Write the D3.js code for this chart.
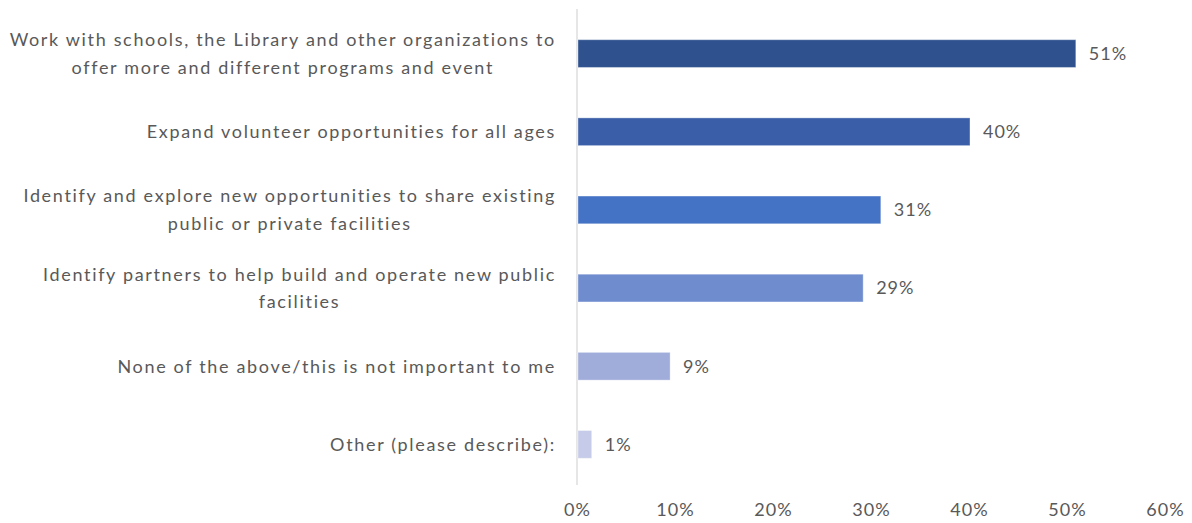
<!DOCTYPE html>
<html><head><meta charset="utf-8">
<script src="https://cdn.jsdelivr.net/npm/d3@7"></script>
<style>html,body{margin:0;padding:0;background:#fff}</style>
</head><body>
<svg id="c" width="1192" height="523"></svg>
<script>
const categories = [
  ["Work with schools, the Library and other organizations to", "offer more and different programs and event"],
  ["Expand volunteer opportunities for all ages"],
  ["Identify and explore new opportunities to share existing", "public or private facilities"],
  ["Identify partners to help build and operate new public", "facilities"],
  ["None of the above/this is not important to me"],
  ["Other (please describe):"]
];
const values = [50.9, 40.1, 31.0, 29.2, 9.5, 1.5];
const valueLabels = ["51%", "40%", "31%", "29%", "9%", "1%"];
const tickValues = [0, 10, 20, 30, 40, 50, 60];
const tickLabels = ["0%", "10%", "20%", "30%", "40%", "50%", "60%"];
const colors = ["#2f528f", "#3a5fa8", "#4472c4", "#6f8ccf", "#a0acd9", "#c5cbe8"];

const svg = d3.select("#c");
const font = "Lato, 'Liberation Sans', sans-serif";
const fs = 18;
const textColor = "#595959";

// letter spacing fitted so the widest label line matches the reference width (545px)
const probe = svg.append("text").attr("font-family", font).attr("font-size", fs).text(categories[0][0]);
const pw = probe.node().getComputedTextLength();
probe.remove();
const ls = Math.max(0, (545 - pw) / (categories[0][0].length - 1));

const x = d3.scaleLinear().domain([0, 60]).range([577, 1165]);
const y = d3.scaleBand().domain(d3.range(categories.length)).range([14.5, 483.5]).paddingInner(0.645).paddingOuter(0.3225);

// axis line
svg.append("line").attr("x1", x(0)).attr("x2", x(0)).attr("y1", 9).attr("y2", 485)
  .attr("stroke", "#d9d9d9").attr("stroke-width", 1.3);

// bars
svg.selectAll("rect.bar").data(values).enter().append("rect")
  .attr("class", "bar")
  .attr("x", x(0) + 1)
  .attr("y", (d, i) => y(i))
  .attr("width", d => x(d) - x(0) - 1)
  .attr("height", y.bandwidth())
  .attr("fill", (d, i) => colors[i])
  .attr("stroke", "rgba(255,255,255,0.35)")
  .attr("stroke-width", 1);

// value labels
svg.selectAll("text.val").data(values).enter().append("text")
  .attr("class", "val")
  .attr("x", d => x(d) + 13)
  .attr("y", (d, i) => y(i) + y.bandwidth() / 2)
  .attr("dy", "0.35em")
  .attr("font-family", font).attr("font-size", fs).attr("fill", textColor)
  .attr("letter-spacing", ls * 0.6)
  .text((d, i) => valueLabels[i]);

// category labels
const rightEdge = 556;
const lineH = 27.5;
categories.forEach((lines, i) => {
  const cy = y(i) + y.bandwidth() / 2;
  const g = svg.append("g");
  const texts = lines.map((s, k) => g.append("text")
    .attr("font-family", font).attr("font-size", fs).attr("fill", textColor)
    .attr("letter-spacing", ls)
    .attr("dy", "0.35em")
    .attr("y", cy + (k - (lines.length - 1) / 2) * lineH)
    .text(s));
  const widths = texts.map(t => t.node().getComputedTextLength());
  const maxW = d3.max(widths);
  const center = rightEdge - maxW / 2;
  texts.forEach(t => t.attr("x", center).attr("text-anchor", "middle"));
});

// x axis
const axis = d3.axisBottom(x).tickValues(tickValues).tickFormat((d, i) => tickLabels[i]).tickSize(0).tickPadding(0);
const ag = svg.append("g").attr("transform", "translate(0,503)").call(axis);
ag.select(".domain").remove();
ag.selectAll("text").attr("font-family", font).attr("font-size", fs).attr("fill", textColor)
  .attr("letter-spacing", ls * 0.6);
</script>
</body></html>
